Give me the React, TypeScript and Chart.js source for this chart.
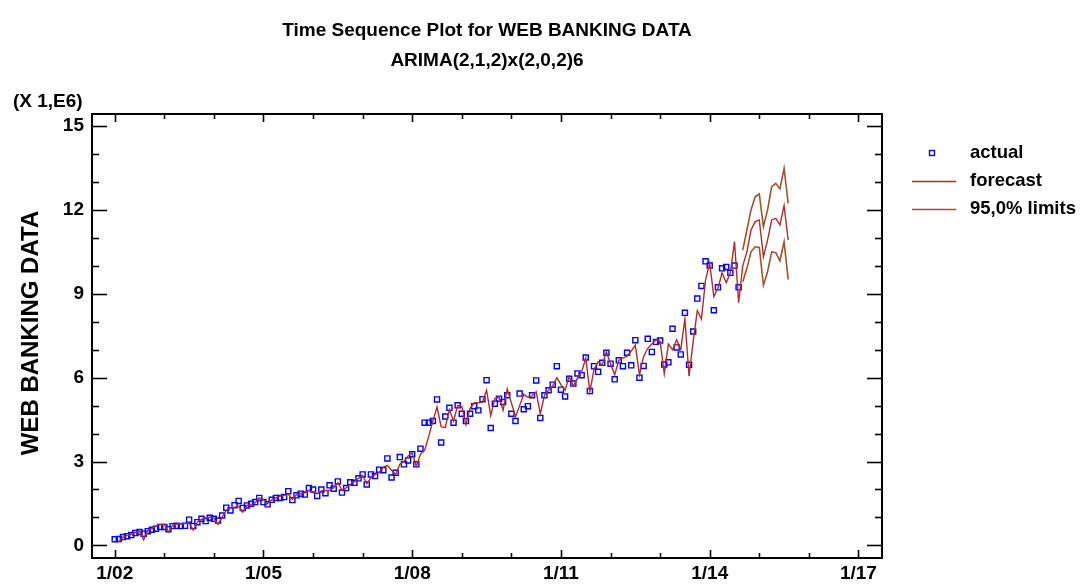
import React, { useEffect, useRef } from "react";
import { Chart, registerables } from "chart.js";

Chart.register(...registerables);

// Month index 0 = January 2002. Values are in millions.
const xTickMonths = [0, 36, 72, 108, 144, 180];
const xTickLabels = ["1/02", "1/05", "1/08", "1/11", "1/14", "1/17"];
const yTickValues = [0, 3, 6, 9, 12, 15];

// Observed series, Jan 2002 .. Aug 2014
const actualValues = [
  0.22, 0.23, 0.30, 0.33, 0.37, 0.44, 0.48, 0.42, 0.51, 0.56, 0.60, 0.66,
  0.66, 0.58, 0.69, 0.70, 0.69, 0.70, 0.92, 0.69, 0.83, 0.95, 0.87, 0.99,
  0.95, 0.89, 1.07, 1.35, 1.25, 1.44, 1.59, 1.34, 1.43, 1.49, 1.55, 1.70,
  1.55, 1.47, 1.63, 1.70, 1.70, 1.73, 1.94, 1.62, 1.79, 1.85, 1.82, 2.05,
  2.00, 1.77, 2.00, 1.87, 2.15, 2.03, 2.29, 1.89, 2.05, 2.26, 2.24, 2.40,
  2.54, 2.18, 2.54, 2.48, 2.71, 2.69, 3.11, 2.43, 2.60, 3.16, 2.90, 3.04,
  3.26, 2.90, 3.46, 4.39, 4.39, 4.45, 5.22, 3.68, 4.61, 4.92, 4.39, 5.01,
  4.71, 4.45, 4.71, 4.98, 4.83, 5.23, 5.91, 4.20, 5.07, 5.25, 5.13, 5.37,
  4.71, 4.45, 5.43, 4.87, 4.98, 5.37, 5.90, 4.56, 5.37, 5.55, 5.75, 6.41,
  5.57, 5.33, 5.96, 5.79, 6.15, 6.09, 6.72, 5.52, 6.41, 6.21, 6.53, 6.89,
  6.50, 5.94, 6.62, 6.41, 6.89, 6.44, 7.34, 6.00, 6.42, 7.39, 6.92, 7.28,
  7.33, 6.47, 6.55, 7.75, 7.08, 6.83, 8.32, 6.46, 7.65, 8.83, 9.28, 10.16,
  10.01, 8.41, 9.23, 9.91, 9.96, 9.75, 10.01, 9.23,
];

// One-step fitted values (Feb 2002 .. Aug 2014) followed by the forecasts (Sep 2014 .. Aug 2015)
const forecastStartMonth = 1;
const forecastValues = [
  0.12, 0.30, 0.35, 0.40, 0.46, 0.51, 0.20, 0.54, 0.60, 0.69, 0.74,
  0.75, 0.48, 0.72, 0.76, 0.77, 0.78, 0.80, 0.55, 0.83, 0.93, 0.98, 1.01,
  0.98, 0.75, 1.01, 1.25, 1.35, 1.37, 1.40, 1.19, 1.43, 1.46, 1.52, 1.70,
  1.63, 1.49, 1.63, 1.70, 1.76, 1.79, 1.84, 1.65, 1.82, 1.85, 1.88, 1.98,
  1.88, 1.85, 1.95, 1.97, 1.97, 2.06, 2.24, 1.97, 2.06, 2.18, 2.28, 2.40,
  2.50, 2.21, 2.42, 2.54, 2.60, 2.80, 2.86, 2.69, 2.54, 2.90, 3.00, 3.20,
  3.30, 2.83, 3.26, 3.40, 3.90, 4.45, 4.95, 4.25, 4.22, 4.85, 4.45, 5.00,
  4.97, 4.32, 4.90, 5.10, 5.10, 5.12, 5.55, 4.64, 5.25, 5.30, 4.84, 5.60,
  5.10, 4.60, 5.00, 5.40, 5.30, 5.35, 5.50, 4.70, 5.37, 5.55, 5.70, 6.00,
  5.75, 5.55, 6.04, 5.70, 5.98, 6.20, 6.70, 5.50, 6.30, 6.57, 6.45, 6.93,
  6.50, 6.10, 6.62, 6.70, 6.77, 6.95, 7.16, 6.10, 6.75, 7.05, 7.20, 7.35,
  7.30, 6.14, 7.20, 7.00, 7.35, 7.00, 8.10, 6.05, 7.30, 8.40, 8.10, 9.50,
  10.10, 8.90, 9.20, 9.75, 9.40, 9.75, 10.87, 8.68,
  10.00, 10.50, 11.28, 11.58, 11.64, 10.32, 10.92, 11.64, 11.70, 11.46, 12.15, 10.92,
];

// 95% limits for the forecast horizon
const limitsStartMonth = 152;
const upperLimitValues = [10.56, 11.28, 12.0, 12.47, 12.57, 11.4, 12.0, 12.83, 12.95, 12.75, 13.49, 12.23];
const lowerLimitValues = [9.43, 9.91, 10.5, 10.68, 10.66, 9.31, 9.79, 10.5, 10.47, 10.18, 10.86, 9.51];

const FONT = "'Liberation Sans', Arial, Helvetica, sans-serif";
const BLUE = "#0000ff";
const RED = "#b22a2a";
const BROWN = "#a0522d";

const decorPlugin = {
  id: "decor",
  afterDraw(chart: any) {
    const { ctx, chartArea: a } = chart;
    const xs = chart.scales.x;
    const ys = chart.scales.y;
    ctx.save();
    ctx.strokeStyle = "#000";
    ctx.lineWidth = 2;
    ctx.strokeRect(a.left, a.top, a.right - a.left, a.bottom - a.top);

    const seg = (x1: number, y1: number, x2: number, y2: number) => {
      ctx.beginPath();
      ctx.moveTo(x1, y1);
      ctx.lineTo(x2, y2);
      ctx.stroke();
    };
    ctx.lineWidth = 1.6;
    // yearly ticks on the time axis, longer every three years
    for (let m = 0; m <= 180; m += 12) {
      const px = Math.round(xs.getPixelForValue(m)) + 0.5;
      const len = m % 36 === 0 ? 8 : 5;
      seg(px, a.bottom, px, a.bottom - len);
      seg(px, a.top, px, a.top + len);
    }
    // unit ticks on the value axis, longer every 3
    for (let v = 0; v <= 15; v++) {
      const py = Math.round(ys.getPixelForValue(v)) + 0.5;
      const len = v % 3 === 0 ? 15 : 7;
      seg(a.left, py, a.left + len, py);
      seg(a.right, py, a.right - len, py);
    }

    ctx.fillStyle = "#000";
    ctx.textBaseline = "middle";
    ctx.textAlign = "center";
    ctx.font = `bold 19px ${FONT}`;
    const cx = (a.left + a.right) / 2;
    ctx.fillText("Time Sequence Plot for WEB BANKING DATA", cx, 31);
    ctx.fillText("ARIMA(2,1,2)x(2,0,2)6", cx, 61);

    ctx.textAlign = "left";
    ctx.fillText("(X 1,E6)", 13, 102);

    ctx.save();
    ctx.translate(31, 333);
    ctx.rotate(-Math.PI / 2);
    ctx.textAlign = "center";
    ctx.font = `bold 24px ${FONT}`;
    ctx.fillText("WEB BANKING DATA", 0, 0);
    ctx.restore();

    // legend
    ctx.font = `bold 18.5px ${FONT}`;
    ctx.textAlign = "left";
    ctx.strokeStyle = BLUE;
    ctx.lineWidth = 1.4;
    ctx.strokeRect(929.5, 150.5, 5, 5);
    ctx.fillText("actual", 970, 153);
    ctx.strokeStyle = RED;
    ctx.lineWidth = 1.5;
    seg(912, 181.5, 956, 181.5);
    ctx.fillText("forecast", 970, 181);
    ctx.strokeStyle = BROWN;
    seg(912, 209.5, 956, 209.5);
    ctx.fillText("95,0% limits", 970, 209);
    ctx.restore();
  },
};

export default function App() {
  const canvasRef = useRef<HTMLCanvasElement | null>(null);

  useEffect(() => {
    const canvas = canvasRef.current;
    if (!canvas) return;

    const actualPts = actualValues.map((v, i) => ({ x: i, y: v }));
    const forecastPts = forecastValues.map((v, i) => ({ x: forecastStartMonth + i, y: v }));
    const upperPts = upperLimitValues.map((v, i) => ({ x: limitsStartMonth + i, y: v }));
    const lowerPts = lowerLimitValues.map((v, i) => ({ x: limitsStartMonth + i, y: v }));

    const chart = new Chart(canvas, {
      type: "scatter",
      data: {
        datasets: [
          {
            label: "95,0% limits upper",
            data: upperPts,
            showLine: true,
            borderColor: BROWN,
            borderWidth: 1.6,
            pointRadius: 0,
          },
          {
            label: "95,0% limits lower",
            data: lowerPts,
            showLine: true,
            borderColor: BROWN,
            borderWidth: 1.6,
            pointRadius: 0,
          },
          {
            label: "forecast",
            data: forecastPts,
            showLine: true,
            borderColor: RED,
            borderWidth: 1.4,
            pointRadius: 0,
          },
          {
            label: "actual",
            data: actualPts,
            showLine: false,
            pointStyle: "rect",
            pointRadius: 3.6,
            pointBorderColor: BLUE,
            pointBackgroundColor: "rgba(0,0,0,0)",
            pointBorderWidth: 1.4,
          },
        ],
      },
      options: {
        responsive: false,
        animation: false,
        devicePixelRatio: 1,
        layout: { padding: { left: 0, top: 114, right: 198, bottom: 0 } },
        plugins: {
          legend: { display: false },
          title: { display: false },
          tooltip: { enabled: false },
        },
        scales: {
          x: {
            type: "linear",
            min: -5.5,
            max: 185.7,
            afterBuildTicks: (s: any) => {
              s.ticks = xTickMonths.map((v) => ({ value: v }));
            },
            afterFit: (s: any) => {
              s.height = 29;
            },
            ticks: {
              autoSkip: false,
              maxRotation: 0,
              padding: 4,
              color: "#000",
              font: { family: FONT, size: 19, weight: "bold" },
              callback: (_v: any, i: number) => xTickLabels[i],
            },
            grid: { display: false, drawTicks: false },
            border: { display: false },
          },
          y: {
            type: "linear",
            min: -0.45,
            max: 15.43,
            afterBuildTicks: (s: any) => {
              s.ticks = yTickValues.map((v) => ({ value: v }));
            },
            afterFit: (s: any) => {
              s.width = 92;
            },
            ticks: {
              autoSkip: false,
              padding: 8,
              color: "#000",
              font: { family: FONT, size: 19, weight: "bold" },
              callback: (v: any) => String(v),
            },
            grid: { display: false, drawTicks: false },
            border: { display: false },
          },
        },
      },
      plugins: [decorPlugin],
    });

    return () => chart.destroy();
  }, []);

  return (
    <div style={{ position: "absolute", left: 0, top: 0, width: 1080, height: 587, background: "#fff" }}>
      <canvas ref={canvasRef} width={1080} height={587} />
    </div>
  );
}
